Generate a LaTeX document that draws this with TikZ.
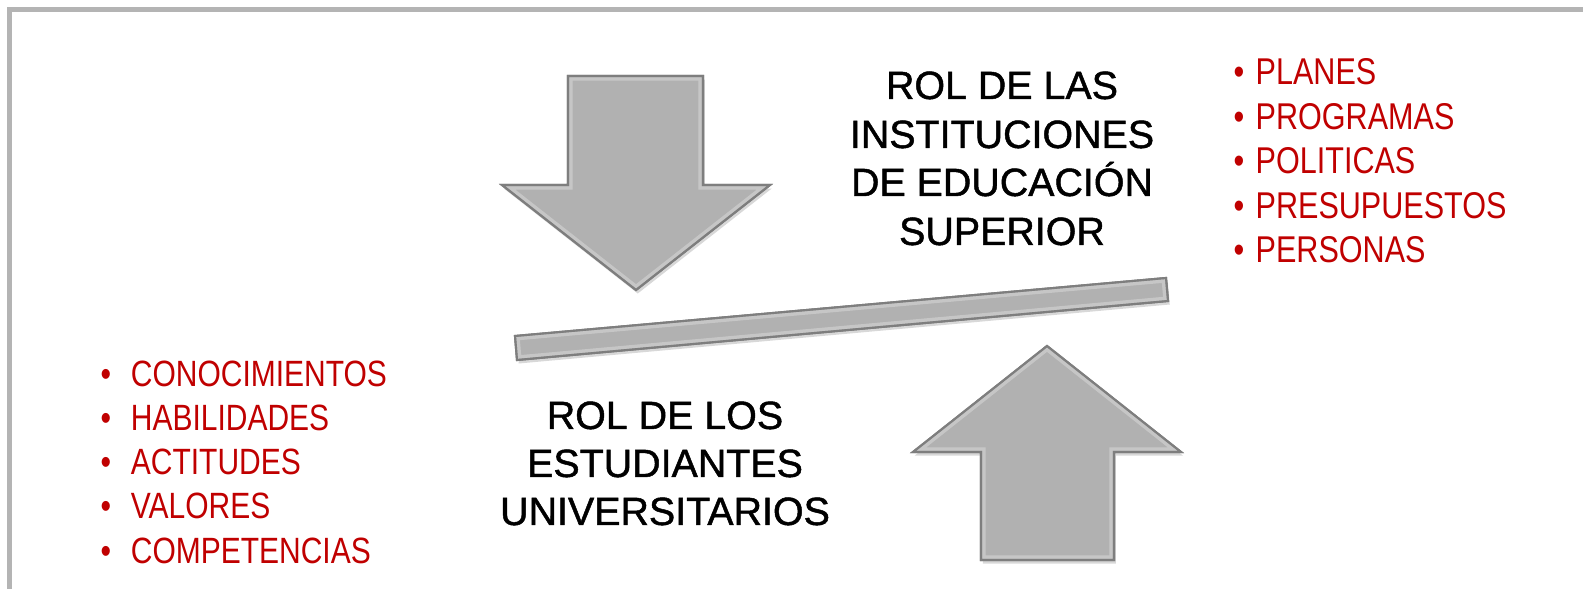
\documentclass[tikz,border=0pt]{standalone}
\usepackage{fontspec}
\setmainfont{Liberation Sans}
\newfontfamily\narrowsf[FakeStretch=0.82]{Liberation Sans}
\newfontfamily\titlesf[FakeBold=1.2]{Liberation Sans}
\usepackage{xcolor}
\usepackage{tikz}
\usetikzlibrary{shadows}
\definecolor{framegray}{HTML}{B4B4B4}
\definecolor{shapefill}{HTML}{B1B1B1}
\definecolor{shapeedge}{HTML}{7E7E7E}
\definecolor{itemred}{HTML}{C00000}
\tikzset{
  frameline/.style={draw=framegray, line width=1.45pt, line cap=butt},
  block/.style={fill=shapefill, draw=shapeedge, line width=0.6pt, line join=miter,
    drop shadow={opacity=0.3, shadow xshift=0.5pt, shadow yshift=-1pt}},
  bevel/.style={draw=white, opacity=0.28, line width=2.6pt, line join=miter},
  title/.style={anchor=base, inner sep=0pt, text=black, font=\titlesf\fontsize{11.2}{13}\selectfont},
  itemr/.style={anchor=base west, inner sep=0pt, text=itemred, font=\narrowsf\fontsize{10.6}{12}\selectfont},
  iteml/.style={anchor=base west, inner sep=0pt, text=itemred, font=\narrowsf\fontsize{10.4}{12}\selectfont},
}
% filled gray shape with a light inner edge
\newcommand\bevelshape[1]{%
  \path[block] #1;
  \begin{scope}
    \clip #1;
    \path[bevel] #1;
  \end{scope}
  \path[draw=shapeedge, line width=0.6pt, line join=miter] #1;
}

\begin{document}
\begin{tikzpicture}[x=0.01cm, y=-0.01cm]
  \useasboundingbox (0,0) rectangle (1583,589);
  \fill[white] (0,0) rectangle (1583,589);
  \draw[frameline] (9.5,589) -- (9.5,9.5) -- (1583,9.5);

  % arrows and balance bar
  \bevelshape{(568,76) -- (703,76) -- (703,185) -- (770,185) -- (636,290)
    -- (502,185) -- (568,185) -- cycle}
  \bevelshape{(1047,346) -- (1181,452) -- (1114,452) -- (1114,560) -- (981,560)
    -- (981,452) -- (913,452) -- cycle}
  \bevelshape{(515,336) -- (1166,278) -- (1168,301) -- (517,360) -- cycle}

  % titles
  \node[title] (ies-a) at (1002,99) {ROL DE LAS};
  \node[title] (ies-b) at (1002,148) {INSTITUCIONES};
  \node[title] (ies-c) at (1002,196) {DE EDUCACIÓN};
  \node[title] (ies-d) at (1002,245) {SUPERIOR};
  \node[title] (est-a) at (665,429) {ROL DE LOS};
  \node[title] (est-b) at (665,477) {ESTUDIANTES};
  \node[title] (est-c) at (665,525) {UNIVERSITARIOS};

  % lists
  \foreach \txt [count=\i] in {PLANES,PROGRAMAS,POLITICAS,PRESUPUESTOS,PERSONAS}
    \node[itemr] (plan-\i) at (1233,{85+44.4*(\i-1)}) {\textbullet\hspace{3.2pt}\txt};
  \foreach \txt [count=\i] in {CONOCIMIENTOS,HABILIDADES,ACTITUDES,VALORES,COMPETENCIAS}
    \node[iteml] (comp-\i) at (100,{386.7+44.1*(\i-1)}) {\textbullet\hspace{5.6pt}\txt};
\end{tikzpicture}
\end{document}
